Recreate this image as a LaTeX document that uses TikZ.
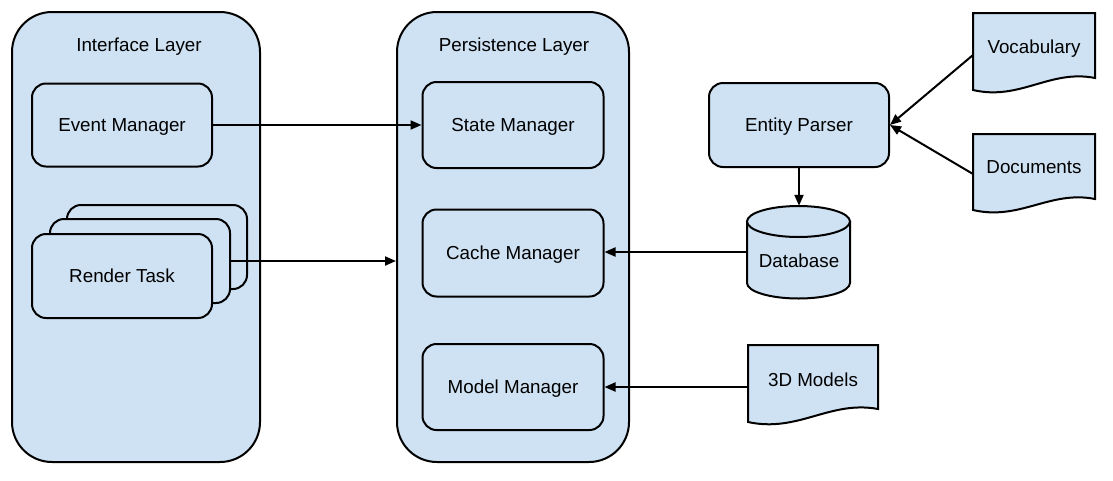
\documentclass[tikz,border=0pt]{standalone}
\usepackage{fontspec}
\setmainfont{Liberation Sans}
\usetikzlibrary{arrows.meta}
\definecolor{lb}{HTML}{CFE2F3}
\tikzset{
 layer/.style={draw, fill=lb, line width=2pt, rounded corners=40pt, inner sep=0pt},
 comp/.style={draw, fill=lb, line width=2pt, rounded corners=14pt, inner sep=0pt, minimum width=180pt, minimum height=85pt, text depth=0pt, font=\fontsize{18.8}{22}\selectfont},
 lbl/.style={font=\fontsize{18.8}{22}\selectfont, inner sep=0pt, text depth=0pt},
 arr/.style={line width=2pt, -{Triangle[length=11pt,width=9pt]}},
 shp/.style={draw, fill=lb, line width=2pt}
}
\newcommand\docpathx[5]{%
 \draw[shp] (#1,#2) -- (#3,#2) -- (#3,#5)
   .. controls ({#1+0.63*(#3-#1)},{#5-9}) and ({#1+0.385*(#3-#1)},{#4+11}) .. (#1,#4) -- cycle;}
\begin{document}
\begin{tikzpicture}[x=1pt,y=-1pt]
\useasboundingbox (0,0) rectangle (1113,480);
% layers
\node[layer, minimum width=248pt, minimum height=450pt] (ifl) at (136,237) {};
\node[layer, minimum width=232pt, minimum height=450pt] (pl) at (513,237) {};
\node[lbl] (iflt) at (139,45) {Interface Layer};
\node[lbl] (plt) at (514,45) {Persistence Layer};
% interface components
\node[comp, minimum height=83pt] (em) at (122,125) {Event Manager};
\node[comp, minimum height=84pt] (rt3) at (157,247) {};
\node[comp, minimum height=84pt] (rt2) at (140,261) {};
\node[comp, minimum height=84pt] (rt1) at (122,276) {Render Task};
% persistence components
\node[comp, minimum width=181pt, minimum height=86pt] (sm) at (513,125) {State Manager};
\node[comp, minimum width=181pt, minimum height=87pt] (cm) at (513,253) {Cache Manager};
\node[comp, minimum width=181pt, minimum height=86pt] (mm) at (513,387) {Model Manager};
% entity parser
\node[comp, minimum height=84pt] (ep) at (799,125) {Entity Parser};
% database
\node[minimum width=103pt, minimum height=92pt, inner sep=0pt] (db) at (798.5,252) {};
\draw[shp] (747,221.5) -- (747,283) arc[start angle=180, end angle=0, x radius=51.5, y radius=15.5] -- (850,221.5) -- cycle;
\draw[shp] (798.5,221.5) ellipse [x radius=51.5, y radius=15.5];
\node[lbl] (dbt) at (799,260.5) {Database};
% documents
\docpathx{973}{13}{1095}{90}{78}
\node[lbl] (voc) at (1034,46.5) {Vocabulary};
\docpathx{973}{134}{1095}{210}{199}
\node[lbl] (doc) at (1034,167) {Documents};
\docpathx{748}{345}{878}{422}{409}
\node[lbl] (m3d) at (813,380) {3D Models};
\coordinate (vocin) at (973,55);
\coordinate (docin) at (973,174);
\coordinate (m3in) at (748,387);
% connectors
\draw[arr] (em.east) -- (em.east -| sm.west);
\draw[arr] (rt2.east) -- (rt2.east -| pl.west);
\draw[arr] (ep.south) -- (ep.south |- db.north);
\draw[arr] (db.west) -- (db.west -| cm.east);
\draw[arr] (m3in) -- (m3in -| mm.east);
\draw[arr] (vocin) -- (ep.east);
\draw[arr] (docin) -- (ep.east);
\end{tikzpicture}
\end{document}
